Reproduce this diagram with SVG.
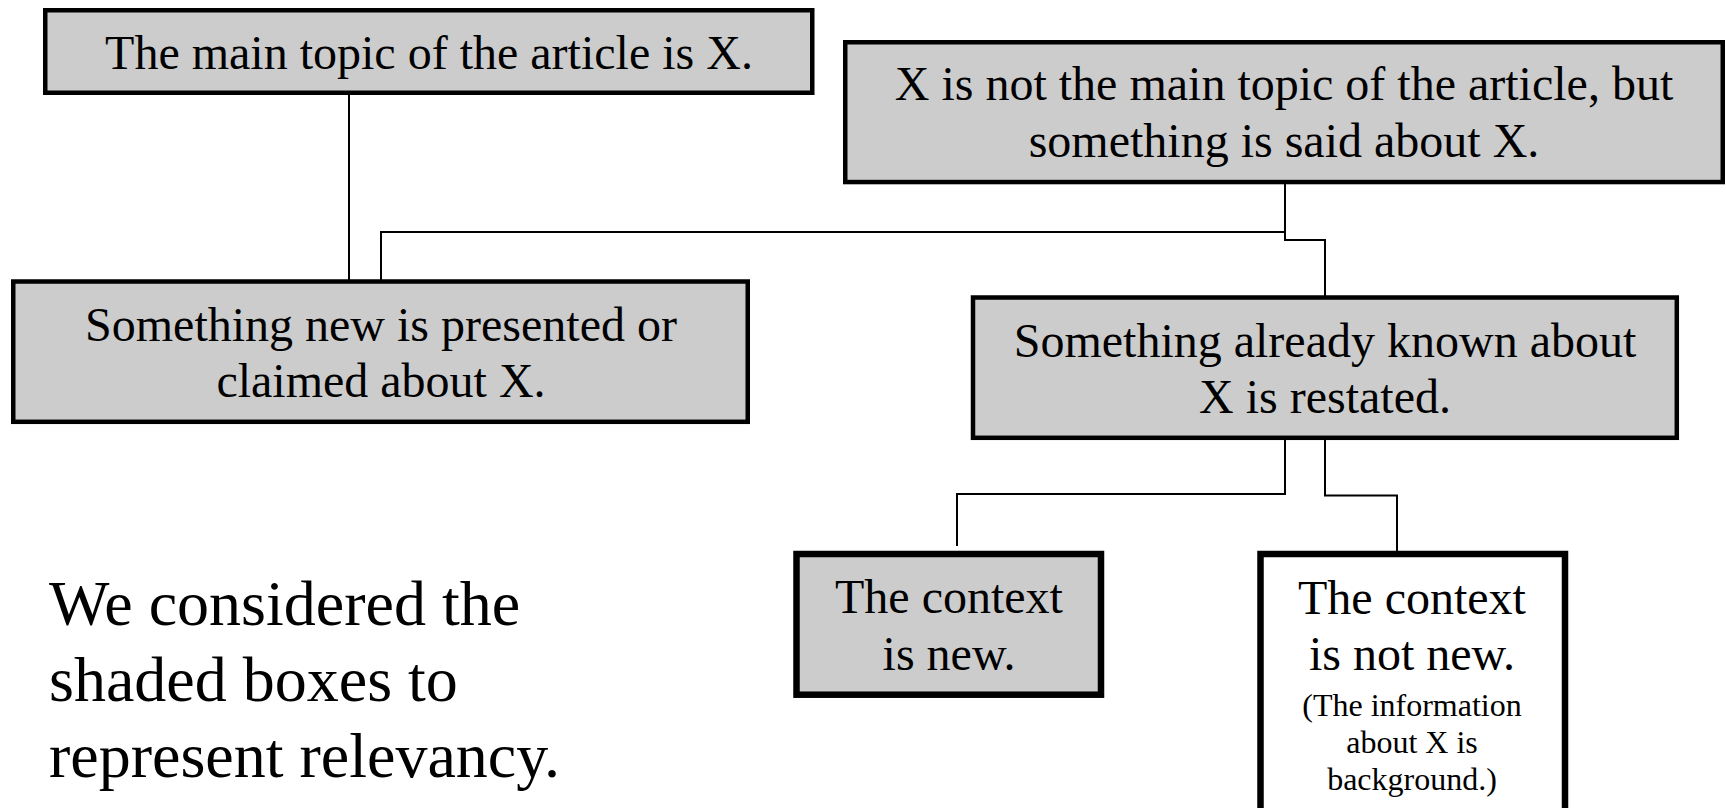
<svg xmlns="http://www.w3.org/2000/svg" width="1726" height="808" viewBox="0 0 1726 808">
<style>
.box{fill:#cccccc;stroke:#000;stroke-width:4.5}
.thick{stroke-width:6.5}
.white{fill:#ffffff}
.t{font-family:"Liberation Serif","Times New Roman",serif;font-size:48px;fill:#000;text-anchor:middle}
.s{font-size:32px}
.note{font-family:"Liberation Serif","Times New Roman",serif;font-size:64px;fill:#000}
.c{fill:none;stroke:#000;stroke-width:2}
</style>
<rect width="1726" height="808" fill="#ffffff"/>
<g id="connectors">
<path class="c" d="M349,92 V284"/>
<path class="c" d="M1285,183 V240 H1325 V297"/>
<path class="c" d="M1285,232 H381 V281"/>
<path class="c" d="M1285,439 V494 H957 V546"/>
<path class="c" d="M1325,439 V495.5 H1397 V552"/>
</g>
<g id="main-topic">
<rect class="box" x="45.25" y="10.25" width="767" height="82.5"/>
<text class="t" x="429" y="69">The main topic of the article is X.</text>
</g>
<g id="not-main-topic">
<rect class="box" x="845.25" y="42.25" width="877.5" height="139.8"/>
<text class="t" x="1284" y="100">X is not the main topic of the article, but</text>
<text class="t" x="1284" y="157">something is said about X.</text>
</g>
<g id="something-new">
<rect class="box" x="13.25" y="281.5" width="734.5" height="140.3"/>
<text class="t" x="381" y="341">Something new is presented or</text>
<text class="t" x="381" y="397">claimed about X.</text>
</g>
<g id="already-known">
<rect class="box" x="973" y="297.5" width="703.8" height="140.3"/>
<text class="t" x="1325" y="357">Something already known about</text>
<text class="t" x="1325" y="413">X is restated.</text>
</g>
<g id="context-new">
<rect class="box thick" x="796.5" y="554" width="304.5" height="140.7"/>
<text class="t" x="949" y="613">The context</text>
<text class="t" x="949" y="670">is new.</text>
</g>
<g id="context-not-new">
<rect class="box thick white" x="1260.5" y="554" width="304.5" height="280"/>
<text class="t" x="1412" y="614">The context</text>
<text class="t" x="1412" y="670">is not new.</text>
<text class="t s" x="1412" y="716">(The information</text>
<text class="t s" x="1412" y="753">about X is</text>
<text class="t s" x="1412" y="790">background.)</text>
</g>
<g id="legend">
<text class="note" x="49" y="625">We considered the</text>
<text class="note" x="49" y="701">shaded boxes to</text>
<text class="note" x="49" y="777">represent relevancy.</text>
</g>
</svg>
